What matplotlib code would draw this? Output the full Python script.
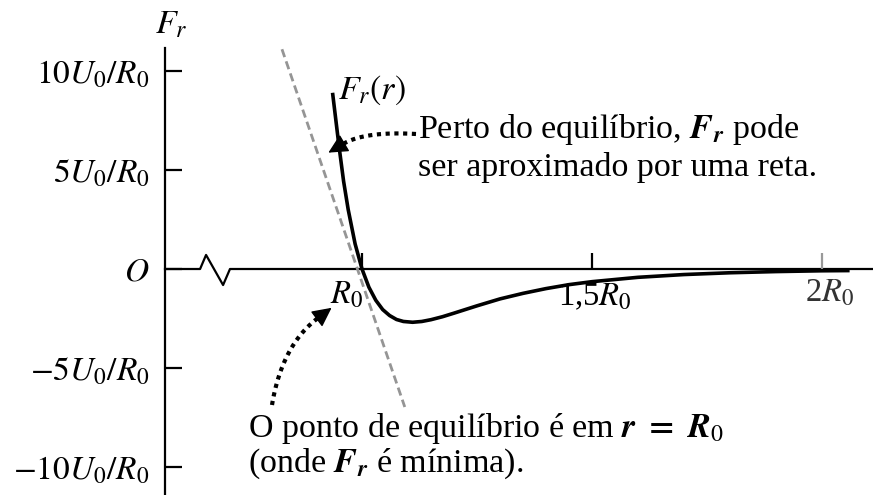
import numpy as np
import matplotlib
matplotlib.use('Agg')
from matplotlib import pyplot as plt
from matplotlib.patches import FancyArrowPatch

plt.rcParams['font.family'] = ['Liberation Serif', 'DejaVu Serif']
plt.rcParams['mathtext.fontset'] = 'stix'

# force curve F_r(r), r in units of R0, F_r in units of U0/R0
r_vals = [0.936, 0.95, 0.96, 0.97, 0.985, 1.0, 1.015, 1.03, 1.045, 1.06, 1.075,
          1.09, 1.11, 1.13, 1.15, 1.175, 1.2, 1.25, 1.3, 1.35, 1.4, 1.45, 1.5,
          1.6, 1.7, 1.8, 1.9, 2.0, 2.06]
f_vals = [8.9, 6.2, 4.43, 3.0, 1.27, 0.0, -0.92, -1.58, -2.05, -2.35, -2.55,
          -2.65, -2.69, -2.65, -2.56, -2.41, -2.23, -1.86, -1.51, -1.23, -0.99, -0.79, -0.64,
          -0.42, -0.28, -0.19, -0.13, -0.09, -0.08]

# straight-line approximation near equilibrium
tangent_r = [0.826, 1.093]
tangent_f = [11.1, -6.97]

y_ticks = [10, 5, 0, -5, -10]
y_labels = [r'$10U_0/R_0$', r'$5U_0/R_0$', r'$O$', r'$-5U_0/R_0$', r'$-10U_0/R_0$']
x_ticks = [1.0, 1.5, 2.0]
x_labels = [r'$R_0$', r'1,5$R_0$', r'2$R_0$']

W, H = 873, 495
fig = plt.figure(figsize=(W / 100, H / 100), dpi=100)


def px(x, y):
    return x / W, 1 - y / H


ax = fig.add_axes([165 / W, 0, (W - 165) / W, (H - 48) / H])
x_left, x_right = 1 - 197 / 460, 1 + 511 / 460
ax.set_xlim(x_left, x_right)
ax.set_ylim(-226 / 19.8, 221 / 19.8)

for s in ['top', 'right', 'bottom']:
    ax.spines[s].set_visible(False)
ax.spines['left'].set_linewidth(1.6)
ax.set_xticks([])
ax.set_yticks(y_ticks)
ax.set_yticklabels(y_labels, fontsize=24)
ax.tick_params(axis='y', direction='in', length=12, width=1.6, pad=11)

# horizontal axis with the break symbol
brk_r = [x_left, 0.648, 0.661, 0.698, 0.713, x_right]
brk_f = [0, 0, 0.71, -0.81, 0, 0]
ax.plot(brk_r, brk_f, color='black', lw=1.6, clip_on=False)
ax.vlines(x_ticks[:2], 0, 0.8, color='black', lw=1.6)
ax.vlines(x_ticks[2], 0, 0.8, color='#999999', lw=1.6)

ax.plot(tangent_r, tangent_f, color='#959595', lw=2.0, linestyle=(0, (3, 1.6)), clip_on=False)
ax.plot(r_vals, f_vals, color='black', lw=2.6, solid_capstyle='butt')

fs = 24.5
fig.text(*px(363, 303), x_labels[0], fontsize=23.5, ha='right', va='baseline')
fig.text(*px(595, 305), x_labels[1], fontsize=23.5, ha='center', va='baseline')
fig.text(*px(830, 301), x_labels[2], fontsize=23.5, ha='center', va='baseline', color='#333333')

fig.text(*px(155, 33), r'$F_r$', fontsize=fs, ha='left', va='baseline')
fig.text(*px(338, 99), r'$F_r(r)$', fontsize=fs, ha='left', va='baseline')

fig.text(*px(418, 138), r'Perto do equilíbrio, $\mathbfit{F}_{\mathbfit{r}}$ pode',
         fontsize=fs, ha='left', va='baseline')
fig.text(*px(418, 176), 'ser aproximado por uma reta.', fontsize=fs, ha='left', va='baseline')
fig.text(*px(248, 437), r'O ponto de equilíbrio é em $\mathbfit{r}$ $\mathbf{=}$ $\mathbfit{R}_0$',
         fontsize=fs, ha='left', va='baseline')
fig.text(*px(248, 472), r'(onde $\mathbfit{F}_{\mathbfit{r}}$ é mínima).',
         fontsize=fs, ha='left', va='baseline')


def dotted_arrow(p0, p1, p2, head=17):
    t = np.linspace(0, 1, 60)[:, None]
    p0, p1, p2 = np.array(p0, float), np.array(p1, float), np.array(p2, float)
    pts = (1 - t) ** 2 * p0 + 2 * (1 - t) * t * p1 + t ** 2 * p2
    xs, ys = zip(*[px(x, y) for x, y in pts])
    fig.add_artist(plt.Line2D(xs, ys, transform=fig.transFigure, color='black',
                              lw=3.0, linestyle=(0, (1, 1.1))))
    d = (p2 - p1) / np.linalg.norm(p2 - p1)
    tip = p2 + d * head
    fig.add_artist(FancyArrowPatch(px(*p2), px(*tip), transform=fig.transFigure,
                                   arrowstyle='-|>', mutation_scale=30, color='black',
                                   lw=1, shrinkA=0, shrinkB=0))


dotted_arrow((416, 134), (365, 131), (343, 144))
dotted_arrow((272, 405), (282, 345), (318, 318))

fig.savefig('out.png', dpi=100)
